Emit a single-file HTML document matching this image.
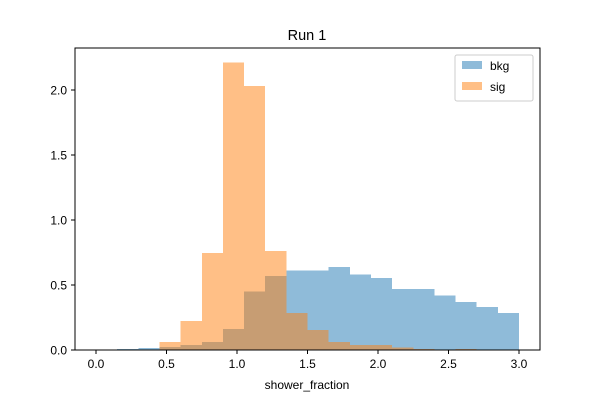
<!DOCTYPE html>
<html><head><meta charset="utf-8"><style>
body{margin:0;background:#fff;}
svg{display:block;font-family:"Liberation Sans","DejaVu Sans",sans-serif;}
</style></head><body>
<svg id="chart" width="600" height="400">
<rect width="600" height="400" fill="#fff"/>
<text x="307" y="40" font-size="14.5" text-anchor="middle">Run 1</text>
<g id="bars" shape-rendering="crispEdges"></g>
<rect x="75" y="48" width="465" height="302" fill="none" stroke="#000" stroke-width="1"/>
<g id="axes"></g>
<text x="307" y="389" font-size="12" text-anchor="middle">shower_fraction</text>
<g>
<rect x="455" y="55" width="78" height="46" fill="#fff" fill-opacity="0.8" stroke="#ccc" rx="2"/>
<rect x="462" y="61" width="20" height="8" fill="#1f77b4" fill-opacity="0.5"/>
<text x="490" y="70" font-size="12">bkg</text>
<rect x="462" y="82" width="20" height="8" fill="#ff7f0e" fill-opacity="0.5"/>
<text x="490" y="91" font-size="12">sig</text>
</g>
</svg>
<script>
const binStart = 0, binWidth = 0.15;
const bkg = [0,0.008,0.015,0.023,0.04,0.06,0.16,0.45,0.57,0.61,0.61,0.64,0.58,0.555,0.47,0.47,0.42,0.37,0.33,0.285];
const sig = [0,0,0,0.06,0.225,0.745,2.21,2.03,0.76,0.285,0.155,0.06,0.04,0.04,0.02,0.008,0.003,0.008,0,0];
const xTicks = [0,0.5,1,1.5,2,2.5,3];
const xTickLabels = ["0.0","0.5","1.0","1.5","2.0","2.5","3.0"];
const yTicks = [0,0.5,1,1.5,2];
const yTickLabels = ["0.0","0.5","1.0","1.5","2.0"];
const NS="http://www.w3.org/2000/svg";
const xs = v => 96 + v*141;
const ys = v => 350 - v*130;
const bars=document.getElementById('bars');
function drawSeries(arr,color,name){
  arr.forEach((v,i)=>{
    if(v<=0)return;
    const x0=xs(binStart+i*binWidth), x1=xs(binStart+(i+1)*binWidth);
    const r=document.createElementNS(NS,'rect');
    r.setAttribute('x',x0);r.setAttribute('width',x1-x0);
    r.setAttribute('y',ys(v));r.setAttribute('height',ys(0)-ys(v));
    r.setAttribute('fill',color);r.setAttribute('fill-opacity','0.5');
    
    
    bars.appendChild(r);
  });
}
drawSeries(bkg,'#1f77b4','bkg');
drawSeries(sig,'#ff7f0e','sig');
const axes=document.getElementById('axes');
xTicks.forEach((t,i)=>{
  const l=document.createElementNS(NS,'line');
  l.setAttribute('x1',xs(t));l.setAttribute('x2',xs(t));l.setAttribute('y1',350);l.setAttribute('y2',354);l.setAttribute('stroke','#000');
  
  
  axes.appendChild(l);
  const tx=document.createElementNS(NS,'text');
  tx.setAttribute('x',xs(t));tx.setAttribute('y',368);tx.setAttribute('font-size','12');tx.setAttribute('text-anchor','middle');
  tx.textContent=xTickLabels[i];
  
  
  axes.appendChild(tx);
});
yTicks.forEach((t,i)=>{
  const l=document.createElementNS(NS,'line');
  l.setAttribute('x1',71);l.setAttribute('x2',75);l.setAttribute('y1',ys(t));l.setAttribute('y2',ys(t));l.setAttribute('stroke','#000');
  
  
  axes.appendChild(l);
  const tx=document.createElementNS(NS,'text');
  tx.setAttribute('x',67);tx.setAttribute('y',ys(t)+4.5);tx.setAttribute('font-size','12');tx.setAttribute('text-anchor','end');
  tx.textContent=yTickLabels[i];
  
  
  axes.appendChild(tx);
});
</script>
</body></html>
